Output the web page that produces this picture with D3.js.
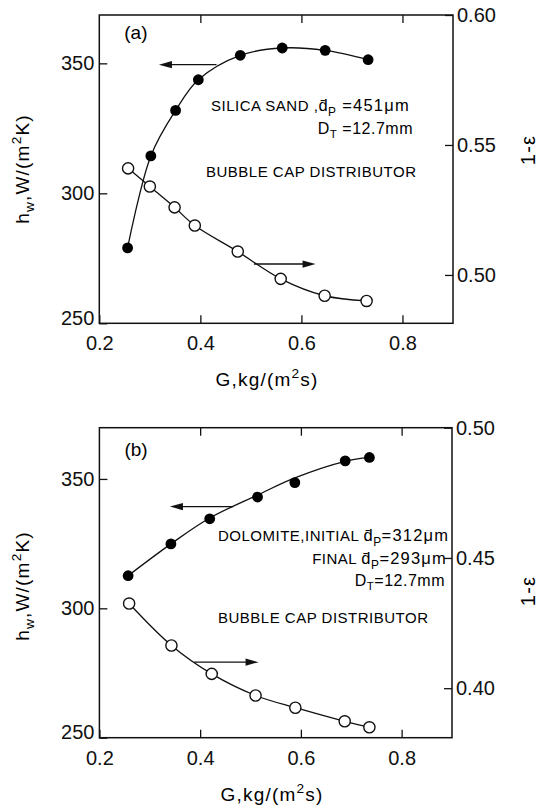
<!DOCTYPE html>
<html>
<head>
<meta charset="utf-8">
<script src="https://cdn.jsdelivr.net/npm/d3@7"></script>
<style>
  html, body { margin: 0; padding: 0; background: #fff; }
  svg { display: block; font-family: "Liberation Sans", Arial, Helvetica, sans-serif; }
</style>
</head>
<body>
<svg id="chart" width="538" height="805"></svg>
<script>
// ---- data: panel (a), silica sand ----
const gA  = [0.256, 0.302, 0.351, 0.396, 0.479, 0.562, 0.647, 0.732];
const hA  = [279.0, 314.4, 331.9, 343.7, 353.1, 355.9, 355.0, 351.4];
const gAe = [0.257, 0.300, 0.349, 0.389, 0.474, 0.559, 0.646, 0.729];
const eA  = [0.541, 0.534, 0.526, 0.519, 0.509, 0.4985, 0.492, 0.490];

// ---- data: panel (b), dolomite ----
const gB    = [0.257, 0.342, 0.419, 0.514, 0.588, 0.688, 0.736];
const hB    = [312.6, 324.9, 334.6, 343.0, 348.6, 357.0, 358.3];
const hBfit = [312.6, 324.9, 334.9, 343.8, 350.4, 356.8, 358.3];   // smoothed trend line
const gBe   = [0.259, 0.343, 0.423, 0.510, 0.589, 0.687, 0.736];
const eB    = [0.4325, 0.4164, 0.4055, 0.3972, 0.3925, 0.3873, 0.3850];

// ---- axes ----
const xTicks  = [0.2, 0.4, 0.6, 0.8];
const hTicks  = [250, 300, 350];
const eTicksA = [0.50, 0.55, 0.60];
const eTicksB = [0.40, 0.45, 0.50];

// ---- arrows pointing to the axis each curve belongs to: [G from, G to, value] ----
const arrowHA = [0.432, 0.318, 349.5];
const arrowEA = [0.506, 0.628, 0.5042];
const arrowHB = [0.466, 0.340, 339.3];
const arrowEB = [0.388, 0.516, 0.4100];

const svg = d3.select("#chart");

// rich text helper: parts = [{t, sub, sup, size, ls}]
function rich(sel, parts, baseSize) {
  let shift = 0;
  parts.forEach(p => {
    const ts = sel.append("tspan").text(p.t);
    const fs = p.size || baseSize;
    let target = 0, size = fs;
    if (p.sub) { size = fs * 0.72; target = fs * 0.28; }
    if (p.sup) { size = fs * 0.72; target = -fs * 0.42; }
    ts.attr("font-size", size);
    if (p.ls != null) ts.attr("letter-spacing", p.ls);
    const dy = target - shift;
    if (dy !== 0) ts.attr("dy", dy);
    shift = target;
  });
  return sel;
}

function panel(cfg) {
  const x = d3.scaleLinear().domain([0.2, 0.9]).range([cfg.left, cfg.right]);
  const yH = d3.scaleLinear().domain(cfg.hDom).range([cfg.bottom, cfg.top]);
  const yE = d3.scaleLinear().domain(cfg.eDom).range([cfg.bottom, cfg.top]);
  const g = svg.append("g");

  const tick = 8;
  // left axis
  const ax = g.append("g").attr("transform", `translate(${cfg.left},0)`)
    .call(d3.axisLeft(yH).tickValues(hTicks).tickFormat(d3.format("d"))
      .tickSizeInner(-tick).tickSizeOuter(0).tickPadding(5));
  ax.selectAll("text").filter(d => d === 250).attr("dy", "0.05em");
  // right axis
  g.append("g").attr("transform", `translate(${cfg.right},0)`)
    .call(d3.axisRight(yE).tickValues(cfg.eTicks).tickFormat(d3.format(".2f"))
      .tickSizeInner(-tick).tickSizeOuter(0).tickPadding(4));
  // bottom axis
  g.append("g").attr("transform", `translate(0,${cfg.bottom})`)
    .call(d3.axisBottom(x).tickValues(xTicks).tickFormat(d3.format(".1f"))
      .tickSizeInner(-tick).tickSizeOuter(0).tickPadding(13));
  // top axis (ticks only)
  g.append("g").attr("transform", `translate(0,${cfg.top})`)
    .call(d3.axisTop(x).tickValues(xTicks.slice(1)).tickFormat("")
      .tickSizeInner(-tick).tickSizeOuter(0));

  g.selectAll(".domain").remove();
  g.selectAll(".tick line").attr("stroke", "#111").attr("stroke-width", 1.3);
  g.selectAll(".tick text").attr("font-size", 20).attr("fill", "#111")
    .attr("font-family", "Liberation Sans, Arial, sans-serif");

  // frame
  g.append("rect").attr("x", cfg.left).attr("y", cfg.top)
    .attr("width", cfg.right - cfg.left).attr("height", cfg.bottom - cfg.top)
    .attr("fill", "none").attr("stroke", "#111").attr("stroke-width", 1.5);

  // curves
  const lineH = d3.line().x(d => x(d[0])).y(d => yH(d[1])).curve(d3.curveCatmullRom.alpha(0.5));
  const lineE = d3.line().x(d => x(d[0])).y(d => yE(d[1])).curve(d3.curveCatmullRom.alpha(0.5));
  g.append("path").datum(d3.zip(cfg.g, cfg.hFit)).attr("d", lineH)
    .attr("fill", "none").attr("stroke", "#111").attr("stroke-width", 1.3);
  g.append("path").datum(d3.zip(cfg.ge, cfg.e)).attr("d", lineE)
    .attr("fill", "none").attr("stroke", "#111").attr("stroke-width", 1.3);

  // markers
  g.selectAll(".ho").data(d3.zip(cfg.ge, cfg.e)).join("circle")
    .attr("cx", d => x(d[0])).attr("cy", d => yE(d[1])).attr("r", 5.6)
    .attr("fill", "#fff").attr("stroke", "#111").attr("stroke-width", 1.4);
  g.selectAll(".hf").data(d3.zip(cfg.g, cfg.h)).join("circle")
    .attr("cx", d => x(d[0])).attr("cy", d => yH(d[1])).attr("r", 5.4)
    .attr("fill", "#000");

  // arrows
  function arrow(a, scale) {
    const x1 = x(a[0]), x2 = x(a[1]), yy = scale(a[2]);
    const dir = Math.sign(x2 - x1), len = 13, hw = 3.6;
    g.append("line").attr("x1", x1).attr("x2", x2 - dir * len * 0.6)
      .attr("y1", yy).attr("y2", yy).attr("stroke", "#111").attr("stroke-width", 1.4);
    g.append("path")
      .attr("d", `M${x2},${yy}L${x2 - dir * len},${yy - hw}L${x2 - dir * len},${yy + hw}Z`)
      .attr("fill", "#111");
  }
  arrow(cfg.arrowH, yH);
  arrow(cfg.arrowE, yE);

  // panel letter
  g.append("text").attr("x", cfg.left + 25).attr("y", cfg.top + cfg.letterDy)
    .attr("font-size", 19).text(cfg.letter);

  // axis titles
  rich(g.append("text").attr("text-anchor", "middle").attr("font-size", 19)
      .attr("letter-spacing", 1.2)
      .attr("transform", `translate(29,${cfg.hLabelY}) rotate(-90)`),
    [{t: "h"}, {t: "w", sub: true}, {t: ",W/(m"}, {t: "2", sup: true}, {t: "K)"}], 19);
  g.append("text").attr("text-anchor", "middle").attr("font-size", 20)
    .attr("letter-spacing", 1.2)
    .attr("transform", `translate(535,${cfg.eLabelY}) rotate(-90)`)
    .text("1-ε");
  rich(g.append("text").attr("text-anchor", "middle").attr("font-size", 19)
      .attr("letter-spacing", 1.2)
      .attr("x", cfg.gLabelX).attr("y", cfg.bottom + 63),
    [{t: "G,kg/(m"}, {t: "2", sup: true}, {t: "s)"}], 19);

  // annotations
  cfg.notes.forEach(n => {
    const t = g.append("text").attr("x", n.x).attr("y", n.y)
      .attr("text-anchor", n.anchor || "start").attr("font-size", 15)
      .attr("letter-spacing", 0.5);
    rich(t, n.parts, 15);
  });
}

const dbar = "d\u0304";

panel({
  left: 99.3, right: 453, top: 15, bottom: 323.3,
  hDom: [250, 368.6], eDom: [0.4814, 0.60], eTicks: eTicksA,
  g: gA, h: hA, hFit: hA, ge: gAe, e: eA,
  arrowH: arrowHA, arrowE: arrowEA,
  letter: "(a)", letterDy: 24,
  hLabelY: 169, eLabelY: 150, gLabelX: 267,
  notes: [
    {x: 211, y: 111, parts: [{t: "SILICA SAND ,"}, {t: dbar, size: 16.5}, {t: "P", sub: true, size: 16.5},
      {t: " =451μm", size: 16.5, ls: 1.2}]},
    {x: 413, y: 134, anchor: "end", parts: [{t: "D", size: 16}, {t: "T", sub: true, size: 16},
      {t: " =12.7mm", size: 16}]},
    {x: 206, y: 177, parts: [{t: "BUBBLE CAP DISTRIBUTOR"}]}
  ]
});

panel({
  left: 99.4, right: 452, top: 427.7, bottom: 737.7,
  hDom: [250, 369.8], eDom: [0.381, 0.50], eTicks: eTicksB,
  g: gB, h: hB, hFit: hBfit, ge: gBe, e: eB,
  arrowH: arrowHB, arrowE: arrowEB,
  letter: "(b)", letterDy: 28,
  hLabelY: 586, eLabelY: 591, gLabelX: 272,
  notes: [
    {x: 218, y: 541, parts: [{t: "DOLOMITE,INITIAL  "}, {t: dbar, size: 16.5}, {t: "P", sub: true, size: 16.5},
      {t: "=312μm", size: 16.5, ls: 1.2}]},
    {x: 447, y: 564, anchor: "end", parts: [{t: "FINAL  "}, {t: dbar, size: 16.5}, {t: "P", sub: true, size: 16.5},
      {t: "=293μm", size: 16.5, ls: 1.2}]},
    {x: 445, y: 586, anchor: "end", parts: [{t: "D", size: 16}, {t: "T", sub: true, size: 16},
      {t: "=12.7mm", size: 16}]},
    {x: 218, y: 623, parts: [{t: "BUBBLE CAP DISTRIBUTOR"}]}
  ]
});
</script>
</body>
</html>
